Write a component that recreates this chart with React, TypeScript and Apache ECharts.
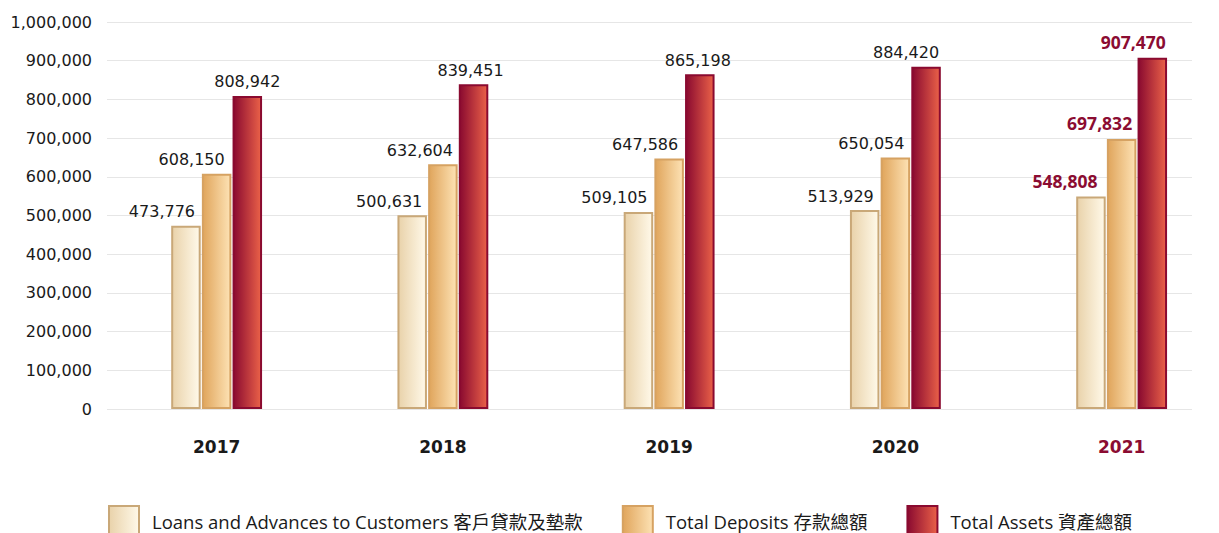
import React, { useEffect, useRef } from "react";
import * as echarts from "echarts";

const years = ["2017", "2018", "2019", "2020", "2021"];
const loans = [473776, 500631, 509105, 513929, 548808];
const deposits = [608150, 632604, 647586, 650054, 697832];
const assets = [808942, 839451, 865198, 884420, 907470];
const seriesNames = [
  "Loans and Advances to Customers 客戶貸款及墊款",
  "Total Deposits 存款總額",
  "Total Assets 資產總額",
];
const yTicks = { min: 0, max: 1000000, interval: 100000 };

// horizontal shifts of value labels (styling only)
const loansLabelShift = [-24, -23, -24, -24, -26];
const depositsLabelShift = [-25, -23, -24, -24, -22];
const assetsLabelShift = [0, -3, -2, -20, -19];

const HL = "#8b0c32";
const NUM_FONT = "DejaVu Sans";
const BOLD_FONT = "'Open Sans'";
const TXT_FONT = "'Open Sans', 'Noto Sans CJK TC', sans-serif";
const CW = 1240; // chart canvas width (clipped to 1219 by the wrapper)

const grad = (a: string, b: string) =>
  new echarts.graphic.LinearGradient(0, 0, 1, 0, [
    { offset: 0, color: a },
    { offset: 1, color: b },
  ]);

export default function App() {
  const ref = useRef<HTMLDivElement>(null);
  useEffect(() => {
    if (!ref.current) return;
    const chart = echarts.init(ref.current, null, { renderer: "svg" });
    const fmt = (v: number) => v.toLocaleString("en-US");
    const mkData = (arr: number[], shifts: number[]) =>
      arr.map((v, i) =>
        i === years.length - 1
          ? {
              value: v,
              label: {
                offset: [shifts[i], -1],
                color: HL,
                fontWeight: "bold",
                fontFamily: BOLD_FONT,
                fontSize: 17.5,
              },
            }
          : { value: v, label: { offset: [shifts[i], 0] } }
      );
    const baseLabel = {
      show: true,
      position: "top",
      distance: 6,
      fontFamily: NUM_FONT,
      fontSize: 16,
      color: "#1a1a1a",
      formatter: (p: any) => fmt(p.value),
    };
    const defs = [
      { data: loans, s: loansLabelShift, c: grad("#e9d2aa", "#fff9e9"), b: "#c9a878" },
      { data: deposits, s: depositsLabelShift, c: grad("#e0a55c", "#fde2b4"), b: "#d6a262" },
      { data: assets, s: assetsLabelShift, c: grad("#8a0a30", "#ea6148"), b: "#8a0a30" },
    ];
    chart.setOption({
      animation: false,
      grid: [
        { left: 107, right: CW - 1192, top: 22, bottom: 124 },
        { left: 103.5, right: CW - 103.5 - 1131.25, top: 22, bottom: 124 },
      ],
      xAxis: [
        { gridIndex: 0, type: "category", data: years, show: false },
        {
          gridIndex: 1,
          type: "category",
          data: years,
          axisLine: { show: false },
          axisTick: { show: false },
          axisLabel: {
            margin: 29,
            fontFamily: NUM_FONT,
            fontSize: 17,
            fontWeight: "bold",
            color: "#1a1a1a",
            formatter: (v: string) =>
              v === years[years.length - 1] ? `{hl|${v}}` : v,
            rich: {
              hl: {
                fontFamily: NUM_FONT,
                fontSize: 17,
                fontWeight: "bold",
                color: HL,
              },
            },
          },
        },
      ],
      yAxis: [
        {
          gridIndex: 0,
          type: "value",
          ...yTicks,
          axisLine: { show: false },
          axisTick: { show: false },
          splitLine: { lineStyle: { color: "#e6e6e6", width: 1 } },
          axisLabel: {
            margin: 15,
            fontFamily: NUM_FONT,
            fontSize: 16,
            color: "#1a1a1a",
            formatter: (v: number) => fmt(v),
          },
        },
        { gridIndex: 1, type: "value", ...yTicks, show: false, splitLine: { show: false } },
      ],
      legend: {
        left: 108,
        top: 505,
        padding: 0,
        itemWidth: 30,
        itemHeight: 30,
        itemGap: 39,
        icon: "rect",
        textStyle: {
          fontFamily: TXT_FONT,
          fontSize: 18.5,
          color: "#1a1a1a",
          padding: [6, 0, 0, 8],
        },
        data: seriesNames,
      },
      series: defs.map((d, i) => ({
        name: seriesNames[i],
        type: "bar",
        xAxisIndex: 1,
        yAxisIndex: 1,
        barWidth: 29.5,
        barGap: "4%",
        data: mkData(d.data, d.s),
        itemStyle: { color: d.c, borderColor: d.b, borderWidth: 2 },
        label: baseLabel,
      })),
    });
    return () => chart.dispose();
  }, []);
  return (
    <div
      style={{
        position: "absolute",
        left: 0,
        top: 0,
        width: 1219,
        height: 533,
        overflow: "hidden",
      }}
    >
      <div ref={ref} style={{ width: CW, height: 533 }} />
    </div>
  );
}
